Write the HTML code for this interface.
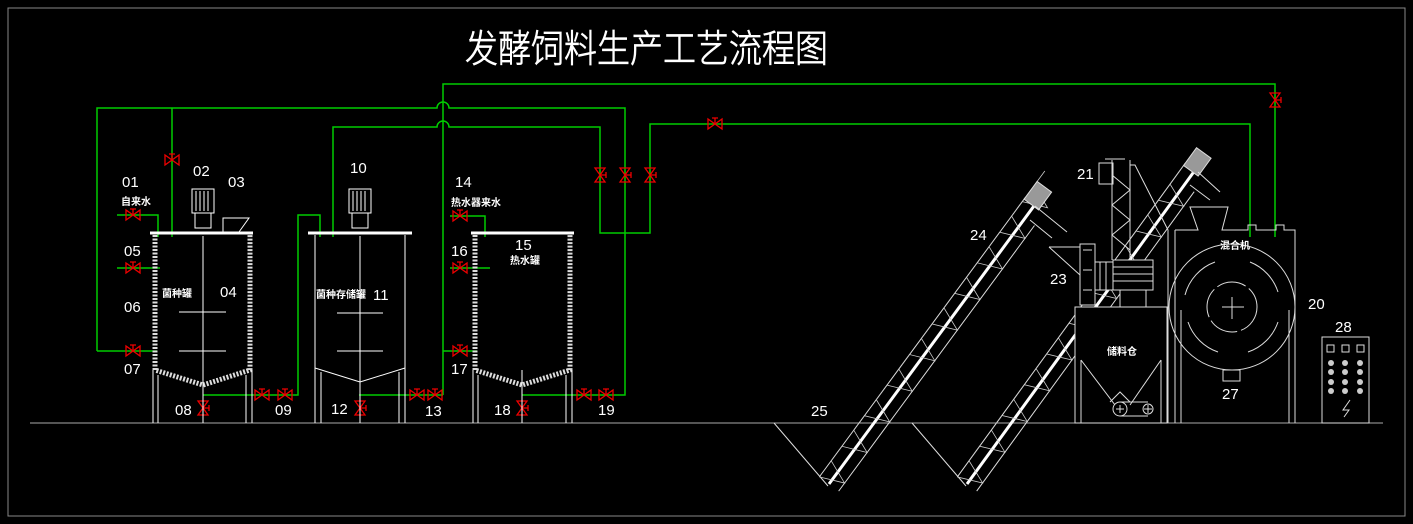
<!DOCTYPE html>
<html><head><meta charset="utf-8"><style>
html,body{margin:0;padding:0;background:#000;}
svg{display:block}
text{font-family:"Liberation Sans","Noto Sans CJK SC",sans-serif;fill:#fff}
.n{font-size:15px;font-weight:300}
.c{font-size:10px;font-weight:bold}
</style></head><body>
<svg width="1413" height="524" viewBox="0 0 1413 524" xmlns="http://www.w3.org/2000/svg">
<defs>
<g id="vh"><path d="M-7,-5 L-7,5 L7,-5 L7,5 Z" fill="none" stroke="#e00" stroke-width="1.3"/><path d="M0,0 V-6 M-3,-6 H3" stroke="#e00" stroke-width="1.3"/></g>
<g id="vv"><path d="M-5,-7 L5,-7 L-5,7 L5,7 Z" fill="none" stroke="#e00" stroke-width="1.3"/><path d="M0,0 H6 M6,-3 V3" stroke="#e00" stroke-width="1.3"/></g>
<path id="zig" d="M0,-12 L10,12 L20,-12 L38,-12 L48,12 L58,-12 L76,-12 L86,12 L96,-12 L114,-12 L124,12 L134,-12 L152,-12 L162,12 L172,-12 L190,-12 L200,12 L210,-12 L228,-12 L238,12 L248,-12 L266,-12 L276,12 L286,-12 L304,-12 L314,12 L324,-12 L342,-12 L352,12 L362,-12 L380,-12" stroke="#ccc" stroke-width="0.8" fill="none"/>
</defs>
<rect x="8" y="8" width="1397" height="508" fill="none" stroke="#888" stroke-width="1"/>
<text x="465" y="62" textLength="363" lengthAdjust="spacingAndGlyphs" style="font-size:38px;font-weight:300;font-family:'Noto Sans CJK SC','WenQuanYi Zen Hei',sans-serif" fill="none" stroke="#fff" stroke-width="0.7">发酵饲料生产工艺流程图</text>
<line x1="30" y1="423" x2="1383" y2="423" stroke="#aaa" stroke-width="1"/>

<g stroke="#0c0" stroke-width="1.5" fill="none">
<path d="M97,351 V108 H437 A6,6 0 0 1 449,108 H625 V395 H522"/>
<path d="M172,108 V237"/>
<path d="M333,237 V127 H437 A6,6 0 0 1 449,127 H600 V233 H650 V124 H1250 V237"/>
<path d="M443,395 V84 H1275 V237"/>
<path d="M359,395 H443"/>
<path d="M203,395 H298 V215 H320 V237"/>
<path d="M117,215 H158 V237 M117,268 H160 M97,351 H157"/>
<path d="M450,216 H485 V237 M450,268 H490 M443,351 H477"/>
</g>
<use href="#vh" x="172" y="160"/><use href="#vh" x="133" y="215"/><use href="#vh" x="133" y="268"/><use href="#vh" x="133" y="351"/>
<use href="#vh" x="262" y="395"/><use href="#vh" x="285" y="395"/>
<use href="#vh" x="417" y="395"/><use href="#vh" x="435" y="395"/>
<use href="#vh" x="460" y="216"/><use href="#vh" x="460" y="268"/><use href="#vh" x="460" y="351"/>
<use href="#vh" x="584" y="395"/><use href="#vh" x="606" y="395"/>
<use href="#vv" x="600" y="175"/><use href="#vv" x="625" y="175"/><use href="#vv" x="650" y="175"/>
<use href="#vh" x="715" y="124"/><use href="#vv" x="1275" y="100"/>
<use href="#vv" x="203" y="408"/><use href="#vv" x="360" y="408"/><use href="#vv" x="522" y="408"/>

<g stroke="#fff" stroke-width="1" fill="none">
 <path d="M150,233 H253" stroke-width="3"/>
 <path d="M155,235 V370 L203,385 L250,370 V235" stroke-width="5" stroke-dasharray="2,1.5" stroke="#ddd"/>
 <path d="M153,370 V423 M158,375 V423 M246,375 V423 M252,370 V423"/>
 <path d="M203,236 V375 M203,370 V423 M179,312 H226 M179,351 H226"/>
 <rect x="192" y="189" width="22" height="24"/><path d="M196,191 V211 M200,191 V211 M204,191 V211 M208,191 V211 M195,213 H211 V228 H195 Z"/>
 <path d="M223,232 V218 H249 L239,232"/>
 <path d="M308,233 H412" stroke-width="3"/>
 <path d="M315,235 V368 L360,382 L405,368 V235 M315,368 V423 M321,372 V423 M399,372 V423 M405,368 V423"/>
 <path d="M360,236 V423 M337,313 H383 M337,351 H383"/>
 <rect x="349" y="189" width="22" height="24"/><path d="M353,191 V211 M357,191 V211 M361,191 V211 M365,191 V211 M352,213 H368 V228 H352 Z"/>
 <path d="M471,233 H574" stroke-width="3"/>
 <path d="M475,235 V370 L522,385 L570,370 V235" stroke-width="5" stroke-dasharray="2,1.5" stroke="#ddd"/>
 <path d="M473,370 V423 M478,375 V423 M566,375 V423 M572,370 V423 M522,370 V423"/>
</g>

<g>
<text x="122" y="187" class="n">01</text><text x="193" y="176" class="n">02</text><text x="228" y="187" class="n">03</text>
<text x="124" y="256" class="n">05</text><text x="124" y="312" class="n">06</text><text x="124" y="374" class="n">07</text>
<text x="220" y="297" class="n">04</text><text x="175" y="415" class="n">08</text><text x="275" y="415" class="n">09</text>
<text x="350" y="173" class="n">10</text><text x="373" y="300" class="n">11</text><text x="331" y="414" class="n">12</text>
<text x="425" y="416" class="n">13</text><text x="455" y="187" class="n">14</text><text x="515" y="250" class="n">15</text>
<text x="451" y="256" class="n">16</text><text x="451" y="374" class="n">17</text><text x="494" y="415" class="n">18</text>
<text x="598" y="415" class="n">19</text>
<text x="970" y="240" class="n">24</text><text x="1077" y="179" class="n">21</text><text x="1050" y="284" class="n">23</text>
<text x="1112" y="376" class="n">22</text><text x="1308" y="309" class="n">20</text><text x="1222" y="399" class="n">27</text>
<text x="1335" y="332" class="n">28</text><text x="811" y="416" class="n">25</text>
</g>
<text x="121" y="205" class="c">自来水</text><text x="162" y="297" class="c">菌种罐</text>
<text x="316" y="298" class="c">菌种存储罐</text><text x="451" y="206" class="c">热水器来水</text>
<text x="510" y="264" class="c">热水罐</text>

<g stroke="#ddd" stroke-width="1" fill="none">
<path d="M774,423 L828,486 M912,423 L966,486"/>
<g transform="translate(829,484) rotate(-53.6)">
 <path d="M0,-12 H347 M0,12 H330"/><path d="M0,0 H347" stroke="#fff" stroke-width="3"/>
 <use href="#zig"/>
 <rect x="345" y="-12" width="22" height="18" fill="#999" stroke="#ddd"/>
</g>
<path d="M1035,206 L1067,232 M1030,220 L1052,238"/>
<g transform="translate(967,484) rotate(-54)">
 <path d="M0,-12 H388 M0,12 H370"/><path d="M0,0 H388" stroke="#fff" stroke-width="3"/>
 <use href="#zig"/>
 <rect x="385" y="-12" width="22" height="18" fill="#999" stroke="#ddd"/>
</g>
<path d="M1198,172 L1220,192 M1190,185 L1210,200"/>
</g>
<g stroke="#ddd" stroke-width="1" fill="#000">
<rect x="1099" y="163" width="14" height="21"/>
<path d="M1112,160 V260 M1130,160 V260 M1112,175 L1130,190 L1112,205 L1130,220 L1112,235 L1130,250 M1105,159 H1125" fill="none"/>
<path d="M1130,165 H1135 L1168,230 V423 M1175,423 V230" fill="none"/>
<path d="M1049,247 H1080 M1049,247 L1080,275" fill="none"/>
<rect x="1080" y="244" width="15" height="61"/><path d="M1083,250 H1092 M1083,270 H1092 M1083,290 H1092"/>
<rect x="1095" y="262" width="18" height="28"/><path d="M1100,262 V290 M1106,262 V290"/>
<rect x="1113" y="260" width="40" height="30"/><path d="M1113,267 H1153 M1113,274 H1153 M1113,281 H1153"/>
<rect x="1120" y="290" width="26" height="17"/>
<rect x="1075" y="307" width="92" height="116"/>
<path d="M1081,360 V423 M1161,360 V423 M1081,360 L1115,405 M1161,360 L1130,405 M1110,402 L1120,392 L1130,402" fill="none"/>
<circle cx="1120" cy="409" r="7"/><circle cx="1148" cy="409" r="5"/><path d="M1120,402 H1148 M1120,416 H1148 M1116,409 H1124 M1120,405 V413 M1144,409 H1152 M1148,405 V413"/>
</g>
<text x="1107" y="355" class="c">储料仓</text>
<g stroke="#ddd" stroke-width="1" fill="none">
<path d="M1175,230 H1198 L1190,207 H1228 L1222,230 H1248 V225 H1256 V230 H1276 V225 H1284 V230 H1295 V423 M1289,310 V423 M1181,310 V423"/>
<circle cx="1232" cy="307" r="63"/>
<circle cx="1232" cy="307" r="25" stroke-dasharray="30,4"/>
<path d="M1232,297 V319 M1222,307 H1244"/>
<path d="M1185,295 A48,48 0 0 1 1215,262 M1250,262 A48,48 0 0 1 1278,292 M1188,322 A48,48 0 0 0 1218,352 M1248,352 A48,48 0 0 0 1278,322"/>
<rect x="1223" y="370" width="17" height="11"/>
<rect x="1322" y="337" width="47" height="86"/>
<rect x="1327" y="345" width="7" height="7"/><rect x="1342" y="345" width="7" height="7"/><rect x="1357" y="345" width="7" height="7"/>
<g fill="#ccc" stroke="none">
<circle cx="1331" cy="363" r="3"/><circle cx="1345" cy="363" r="3"/><circle cx="1360" cy="363" r="3"/>
<circle cx="1331" cy="372" r="3"/><circle cx="1345" cy="372" r="3"/><circle cx="1360" cy="372" r="3"/>
<circle cx="1331" cy="382" r="3"/><circle cx="1345" cy="382" r="3"/><circle cx="1360" cy="382" r="3"/>
<circle cx="1331" cy="391" r="3"/><circle cx="1345" cy="391" r="3"/><circle cx="1360" cy="391" r="3"/>
</g>
<path d="M1350,400 L1343,410 H1349 L1344,417"/>
</g>
<text x="1220" y="249" class="c">混合机</text>
</svg>
</body></html>
